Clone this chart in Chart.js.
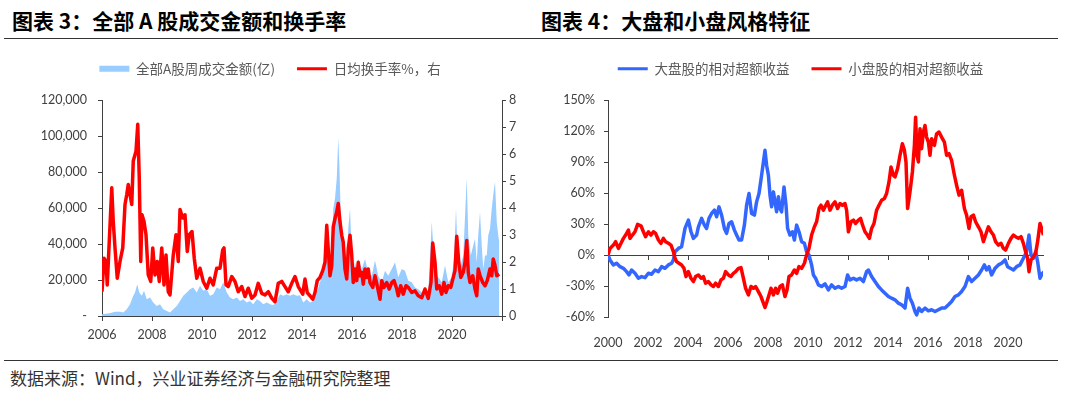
<!DOCTYPE html>
<html>
<head>
<meta charset="utf-8">
<script src="https://cdn.jsdelivr.net/npm/chart.js"></script>
<style>
  body { margin: 0; width: 1080px; height: 397px; background: #fff; position: relative; overflow: hidden; font-family: 'Noto Sans CJK SC', sans-serif; }
  .title { position: absolute; top: 5px; font-size: 21px; font-weight: bold; color: #000; white-space: nowrap; }
  .rule { position: absolute; left: 4px; width: 1054px; border-top: 1.5px solid #333; }
  canvas { position: absolute; }
  .source { position: absolute; left: 10px; top: 366px; font-size: 17px; line-height: 24px; color: #333; white-space: nowrap; }
</style>
</head>
<body>
<div class="title" style="left:12px">图表 3：全部 A 股成交金额和换手率</div>
<div class="title" style="left:541px">图表 4：大盘和小盘风格特征</div>
<div class="rule" style="top:38px"></div>
<canvas id="turnoverChart" width="540" height="310" style="left:0;top:40px"></canvas>
<canvas id="styleChart" width="522" height="310" style="left:558px;top:40px"></canvas>
<div class="rule" style="top:360px"></div>
<div class="source">数据来源：Wind，兴业证券经济与金融研究院整理</div>
<script>
// chart 3: weekly turnover (亿, left axis) and daily turnover rate (%, right axis)
var volumeLabel = '全部A股周成交金额(亿)';
var turnoverLabel = '日均换手率%，右';

var volumeYears = [2006.00, 2006.30, 2006.52, 2006.72, 2006.85, 2006.99, 2007.12, 2007.25, 2007.32, 2007.41,
  2007.49, 2007.59, 2007.68, 2007.79, 2007.92, 2008.05, 2008.19, 2008.32, 2008.45, 2008.59,
  2008.72, 2008.85, 2008.99, 2009.12, 2009.25, 2009.39, 2009.52, 2009.65, 2009.79, 2009.92,
  2010.05, 2010.19, 2010.32, 2010.45, 2010.59, 2010.72, 2010.85, 2010.99, 2011.12, 2011.25,
  2011.39, 2011.52, 2011.65, 2011.79, 2011.92, 2012.05, 2012.19, 2012.32, 2012.45, 2012.59,
  2012.72, 2012.85, 2012.99, 2013.12, 2013.25, 2013.39, 2013.52, 2013.65, 2013.79, 2013.92,
  2014.05, 2014.19, 2014.32, 2014.45, 2014.59, 2014.72, 2014.85, 2014.99, 2015.05, 2015.12,
  2015.19, 2015.25, 2015.32, 2015.39, 2015.45, 2015.49, 2015.55, 2015.63, 2015.72, 2015.79,
  2015.85, 2015.92, 2015.99, 2016.05, 2016.12, 2016.19, 2016.25, 2016.39, 2016.52, 2016.65,
  2016.79, 2016.92, 2017.05, 2017.19, 2017.32, 2017.45, 2017.59, 2017.72, 2017.85, 2017.99,
  2018.12, 2018.25, 2018.39, 2018.52, 2018.65, 2018.79, 2018.92, 2019.05, 2019.19, 2019.25,
  2019.32, 2019.45, 2019.59, 2019.72, 2019.85, 2019.99, 2020.08, 2020.16, 2020.21, 2020.32,
  2020.45, 2020.59, 2020.65, 2020.75, 2020.85, 2020.92, 2020.99, 2021.05, 2021.12, 2021.19,
  2021.25, 2021.32, 2021.39, 2021.45, 2021.52, 2021.59, 2021.65, 2021.72, 2021.79, 2021.85,
  2021.89];
var volumeValues = [1000, 1500, 2400, 2400, 1900, 3700, 6500, 11200, 13000, 17700,
  13000, 11200, 14000, 9300, 10300, 7500, 5600, 6500, 3700, 2800,
  1900, 3700, 5600, 8400, 11200, 13000, 14900, 15900, 13000, 16800,
  14000, 14900, 11200, 12100, 15900, 14900, 18700, 13000, 10300, 9300,
  10300, 8400, 9300, 7500, 8400, 6500, 9300, 8400, 6500, 7500,
  6500, 6000, 8400, 12100, 11200, 12100, 11200, 12100, 11200, 11500,
  7500, 9300, 7500, 8400, 13000, 18700, 24300, 41000, 33600, 29900,
  33600, 59700, 65300, 76500, 98900, 85800, 56000, 41000, 33600, 26100,
  48500, 59700, 33600, 24300, 29900, 26100, 31700, 26100, 31700, 24300,
  22400, 30800, 22400, 18700, 25200, 22400, 26100, 29900, 21500, 26100,
  25200, 19600, 18700, 15900, 14900, 13000, 14900, 13000, 52200, 39200,
  24300, 21500, 18700, 28000, 18700, 21500, 31700, 59700, 41000, 26100,
  33600, 76500, 44800, 33600, 39200, 42900, 29900, 44800, 57800, 39200,
  26100, 33600, 33600, 44800, 48500, 59700, 67200, 74600, 52200, 44800,
  41000];

var turnoverYears = [2006.00, 2006.08, 2006.16, 2006.21, 2006.39, 2006.45, 2006.52, 2006.61, 2006.72, 2006.83,
  2006.92, 2006.99, 2007.05, 2007.12, 2007.19, 2007.25, 2007.36, 2007.43, 2007.49, 2007.55,
  2007.60, 2007.68, 2007.76, 2007.85, 2007.95, 2008.03, 2008.12, 2008.21, 2008.29, 2008.39,
  2008.48, 2008.56, 2008.65, 2008.72, 2008.85, 2008.96, 2009.05, 2009.12, 2009.23, 2009.32,
  2009.41, 2009.49, 2009.60, 2009.69, 2009.79, 2009.92, 2010.05, 2010.19, 2010.32, 2010.45,
  2010.59, 2010.72, 2010.83, 2010.88, 2010.96, 2011.05, 2011.19, 2011.32, 2011.45, 2011.59,
  2011.72, 2011.85, 2011.99, 2012.12, 2012.25, 2012.39, 2012.52, 2012.65, 2012.79, 2012.92,
  2013.05, 2013.19, 2013.32, 2013.45, 2013.59, 2013.72, 2013.85, 2014.03, 2014.12, 2014.21,
  2014.32, 2014.43, 2014.52, 2014.61, 2014.72, 2014.83, 2014.92, 2014.99, 2015.04, 2015.12,
  2015.19, 2015.25, 2015.32, 2015.39, 2015.45, 2015.52, 2015.59, 2015.65, 2015.72, 2015.79,
  2015.85, 2015.92, 2015.99, 2016.05, 2016.12, 2016.19, 2016.25, 2016.32, 2016.39, 2016.45,
  2016.52, 2016.59, 2016.65, 2016.72, 2016.83, 2016.92, 2017.01, 2017.12, 2017.19, 2017.28,
  2017.39, 2017.49, 2017.59, 2017.68, 2017.79, 2017.85, 2017.95, 2018.05, 2018.16, 2018.25,
  2018.39, 2018.52, 2018.65, 2018.79, 2018.92, 2019.05, 2019.16, 2019.23, 2019.32, 2019.39,
  2019.49, 2019.59, 2019.68, 2019.76, 2019.85, 2019.95, 2020.05, 2020.12, 2020.19, 2020.27,
  2020.35, 2020.45, 2020.52, 2020.59, 2020.65, 2020.72, 2020.83, 2020.92, 2020.99, 2021.05,
  2021.12, 2021.23, 2021.32, 2021.41, 2021.52, 2021.59, 2021.65, 2021.72, 2021.79, 2021.89];
var turnoverValues = [0.90, 2.14, 2.02, 1.15, 4.75, 3.50, 2.52, 1.40, 2.02, 2.52,
  4.13, 4.50, 4.87, 4.50, 4.13, 5.74, 6.10, 7.10, 5.12, 2.02,
  3.75, 3.50, 3.01, 1.52, 1.28, 2.52, 1.52, 2.02, 1.28, 2.52,
  1.15, 2.26, 0.90, 0.78, 2.26, 3.01, 2.02, 3.94, 3.63, 3.75,
  2.39, 3.01, 3.13, 2.14, 1.40, 1.77, 1.28, 1.03, 1.40, 1.15,
  1.77, 1.77, 2.45, 2.52, 1.15, 1.09, 1.46, 1.28, 0.90, 1.09,
  0.72, 1.03, 0.66, 0.78, 1.21, 0.84, 0.78, 0.90, 0.66, 0.53,
  1.21, 1.28, 1.09, 0.90, 1.21, 1.46, 1.09, 0.81, 1.37, 0.87,
  0.75, 0.62, 0.87, 1.31, 1.43, 1.68, 1.99, 3.36, 2.61, 1.49,
  1.87, 3.30, 3.61, 3.86, 4.17, 3.48, 2.99, 2.74, 1.74, 1.37,
  2.49, 2.99, 2.24, 1.24, 1.74, 1.31, 1.99, 1.49, 1.62, 1.18,
  1.74, 1.43, 1.74, 1.24, 1.06, 1.49, 1.12, 0.62, 1.31, 1.06,
  1.24, 1.00, 1.24, 1.31, 1.00, 0.75, 1.12, 0.81, 1.12, 1.06,
  0.87, 0.93, 0.75, 0.68, 1.00, 0.65, 1.24, 2.70, 1.99, 1.00,
  1.12, 0.81, 1.24, 0.87, 1.12, 1.06, 1.43, 1.68, 2.95, 1.99,
  1.43, 1.62, 1.99, 2.80, 1.62, 1.24, 1.49, 1.00, 0.75, 1.74,
  1.49, 1.24, 1.12, 1.31, 1.74, 1.49, 2.11, 1.87, 1.49, 1.55];

// chart 4: relative excess return of large caps vs small caps (%)
var largeCapLabel = '大盘股的相对超额收益';
var smallCapLabel = '小盘股的相对超额收益';

var largeCapYears = [2000.00, 2000.10, 2000.27, 2000.43, 2000.60, 2000.77, 2000.93, 2001.05, 2001.18, 2001.35,
  2001.52, 2001.68, 2001.85, 2002.02, 2002.18, 2002.35, 2002.52, 2002.68, 2002.85, 2003.02,
  2003.18, 2003.27, 2003.35, 2003.52, 2003.68, 2003.85, 2004.02, 2004.15, 2004.27, 2004.43,
  2004.52, 2004.68, 2004.82, 2004.93, 2005.05, 2005.18, 2005.32, 2005.43, 2005.55, 2005.68,
  2005.82, 2005.93, 2006.05, 2006.18, 2006.32, 2006.43, 2006.55, 2006.68, 2006.82, 2006.93,
  2007.05, 2007.18, 2007.32, 2007.43, 2007.55, 2007.68, 2007.77, 2007.85, 2007.93, 2008.02,
  2008.10, 2008.18, 2008.27, 2008.35, 2008.43, 2008.52, 2008.60, 2008.68, 2008.80, 2008.90,
  2008.98, 2009.10, 2009.22, 2009.32, 2009.43, 2009.55, 2009.68, 2009.82, 2009.93, 2010.05,
  2010.18, 2010.27, 2010.38, 2010.52, 2010.68, 2010.85, 2011.02, 2011.18, 2011.35, 2011.52,
  2011.68, 2011.85, 2011.98, 2012.10, 2012.27, 2012.43, 2012.60, 2012.77, 2012.93, 2013.02,
  2013.18, 2013.35, 2013.52, 2013.68, 2013.85, 2014.02, 2014.18, 2014.35, 2014.52, 2014.68,
  2014.85, 2014.98, 2015.10, 2015.22, 2015.35, 2015.43, 2015.55, 2015.68, 2015.85, 2016.02,
  2016.18, 2016.35, 2016.52, 2016.68, 2016.85, 2017.02, 2017.18, 2017.35, 2017.52, 2017.68,
  2017.85, 2018.02, 2018.18, 2018.35, 2018.52, 2018.68, 2018.82, 2018.93, 2019.05, 2019.18,
  2019.35, 2019.52, 2019.68, 2019.85, 2019.98, 2020.12, 2020.27, 2020.43, 2020.60, 2020.77,
  2020.93, 2021.05, 2021.15, 2021.27, 2021.38, 2021.48, 2021.60, 2021.72, 2021.82];
var largeCapValues = [0, -4.8, -9.6, -8.0, -11.3, -12.9, -16.1, -19.3, -14.5, -17.7,
  -22.5, -20.9, -21.9, -17.7, -18.6, -14.5, -16.1, -11.3, -12.9, -9.6,
  -8.0, -4.8, 3.2, 6.4, 8.0, 25.7, 33.8, 22.5, 16.1, 19.3,
  27.3, 35.4, 28.9, 25.7, 35.4, 40.2, 43.4, 37.0, 46.6, 38.6,
  25.7, 20.9, 30.5, 32.2, 24.1, 19.3, 14.5, 14.5, 28.9, 48.2,
  59.5, 40.2, 38.6, 51.4, 59.5, 77.2, 90.0, 101.3, 86.8, 77.2,
  57.9, 46.6, 61.1, 51.4, 41.8, 56.3, 45.0, 41.8, 65.9, 48.2,
  25.7, 19.3, 22.5, 14.5, 28.9, 22.5, 12.9, 11.3, 3.2, 0,
  -9.6, -19.3, -22.5, -28.9, -30.5, -28.0, -33.8, -28.9, -32.2, -30.5,
  -32.2, -30.5, -19.3, -24.1, -22.5, -24.1, -22.5, -25.7, -16.1, -14.5,
  -20.9, -25.7, -30.5, -33.8, -37.0, -40.2, -41.8, -43.4, -46.6, -48.2,
  -51.4, -32.2, -41.8, -46.6, -54.7, -57.9, -51.4, -54.7, -51.4, -54.0,
  -53.0, -54.7, -53.0, -51.4, -51.4, -48.2, -45.0, -40.2, -38.6, -35.4,
  -30.5, -20.9, -25.7, -22.5, -19.3, -14.5, -9.6, -14.5, -11.3, -19.3,
  -12.9, -9.6, -8.0, -4.8, -11.3, -12.9, -14.5, -11.3, -9.6, -3.2,
  3.2, 19.3, 0, -3.2, 3.2, -6.4, -22.5, -17.7, -16.1];

var smallCapYears = [2000.00, 2000.10, 2000.27, 2000.38, 2000.52, 2000.65, 2000.77, 2000.88, 2001.02, 2001.10,
  2001.22, 2001.35, 2001.48, 2001.65, 2001.77, 2001.88, 2002.02, 2002.15, 2002.27, 2002.38,
  2002.52, 2002.65, 2002.77, 2002.88, 2003.02, 2003.15, 2003.27, 2003.35, 2003.43, 2003.55,
  2003.68, 2003.80, 2003.90, 2004.02, 2004.15, 2004.27, 2004.38, 2004.52, 2004.65, 2004.77,
  2004.88, 2005.02, 2005.15, 2005.27, 2005.38, 2005.52, 2005.65, 2005.77, 2005.88, 2006.02,
  2006.15, 2006.27, 2006.38, 2006.52, 2006.65, 2006.77, 2006.88, 2007.02, 2007.15, 2007.27,
  2007.38, 2007.52, 2007.65, 2007.77, 2007.85, 2007.95, 2008.05, 2008.15, 2008.27, 2008.38,
  2008.48, 2008.60, 2008.72, 2008.85, 2008.95, 2009.05, 2009.18, 2009.32, 2009.43, 2009.55,
  2009.68, 2009.82, 2009.93, 2010.05, 2010.18, 2010.32, 2010.43, 2010.55, 2010.65, 2010.77,
  2010.85, 2010.98, 2011.10, 2011.22, 2011.35, 2011.48, 2011.60, 2011.72, 2011.85, 2011.93,
  2012.02, 2012.15, 2012.27, 2012.38, 2012.52, 2012.63, 2012.73, 2012.85, 2012.97, 2013.07,
  2013.18, 2013.30, 2013.43, 2013.55, 2013.68, 2013.82, 2013.93, 2014.05, 2014.15, 2014.27,
  2014.35, 2014.48, 2014.60, 2014.72, 2014.82, 2014.90, 2014.98, 2015.10, 2015.22, 2015.32,
  2015.38, 2015.45, 2015.52, 2015.60, 2015.68, 2015.77, 2015.85, 2015.93, 2016.02, 2016.10,
  2016.18, 2016.32, 2016.43, 2016.55, 2016.68, 2016.82, 2016.93, 2017.05, 2017.18, 2017.32,
  2017.43, 2017.55, 2017.68, 2017.82, 2017.93, 2018.05, 2018.15, 2018.27, 2018.38, 2018.52,
  2018.65, 2018.77, 2018.88, 2019.02, 2019.15, 2019.27, 2019.38, 2019.52, 2019.65, 2019.77,
  2019.88, 2020.02, 2020.15, 2020.27, 2020.38, 2020.52, 2020.65, 2020.77, 2020.88, 2020.98,
  2021.05, 2021.15, 2021.27, 2021.38, 2021.48, 2021.60, 2021.68, 2021.77, 2021.82];
var smallCapValues = [0, 6.4, 9.6, 12.9, 6.4, 11.3, 16.1, 19.3, 24.1, 16.1,
  19.3, 22.5, 29.6, 28.3, 22.5, 17.7, 22.5, 19.3, 22.5, 20.9,
  14.5, 11.3, 16.1, 12.9, 11.3, 9.6, 3.2, -3.2, -6.4, -8.0,
  -9.6, -12.9, -20.9, -16.1, -22.5, -25.7, -20.9, -19.3, -22.5, -20.9,
  -27.3, -25.7, -28.9, -30.5, -27.3, -30.5, -24.1, -22.5, -16.1, -19.3,
  -20.9, -17.7, -16.1, -12.9, -12.2, -22.5, -32.2, -38.6, -30.5, -32.2,
  -30.5, -35.4, -40.2, -46.6, -50.8, -45.0, -38.6, -32.2, -38.6, -32.2,
  -37.0, -30.5, -28.9, -40.2, -33.8, -20.9, -19.3, -14.5, -17.7, -11.3,
  -12.9, -8.0, 0, 6.4, 19.3, 27.3, 32.2, 45.0, 48.2, 43.4,
  46.6, 51.4, 43.4, 48.2, 51.4, 45.0, 49.8, 48.2, 49.8, 43.4,
  22.5, 32.2, 33.8, 30.5, 33.8, 35.4, 28.9, 22.5, 19.3, 16.1,
  25.7, 30.5, 43.4, 48.2, 53.0, 54.7, 59.5, 70.7, 85.2, 77.2,
  75.6, 83.6, 96.5, 107.7, 101.3, 90.0, 45.0, 61.1, 80.4, 106.1,
  133.4, 96.5, 90.0, 122.2, 102.9, 119.0, 125.4, 114.1, 109.3, 96.5,
  112.5, 106.1, 117.3, 119.0, 114.1, 109.3, 96.5, 98.1, 91.6, 77.2,
  67.5, 57.9, 62.7, 45.0, 38.6, 25.7, 37.0, 38.6, 32.2, 27.3,
  22.5, 12.9, 19.3, 27.3, 22.5, 19.3, 12.9, 9.6, 11.3, 6.4,
  4.8, 11.3, 16.1, 19.3, 17.7, 16.1, 17.7, 11.3, 3.2, -3.2,
  -16.1, -4.8, -1.6, 1.6, 12.9, 30.5, 25.7, 19.3, 20.9];

var axisColor = '#404040';
var tickFont = { family: 'Lato, sans-serif', size: 12.5 };
var legendFont = { family: "'Noto Sans CJK SC', sans-serif", size: 13.5 };

Chart.defaults.color = '#404040';
Chart.defaults.animation = false;

function pts(xs, ys) {
  return xs.map(function (x, i) { return { x: x, y: ys[i] }; });
}

// legend needs more room below it than chart.js gives by default
function legendHeight(h) {
  return {
    id: 'legendHeight',
    beforeInit: function (chart) {
      var fit = chart.legend.fit;
      chart.legend.fit = function () {
        fit.call(this);
        this.height = h;
      };
    }
  };
}

function legendItems(chart) {
  return chart.data.datasets.map(function (ds, i) {
    var isArea = ds.fill === 'origin';
    var c = isArea ? ds.backgroundColor : ds.borderColor;
    return {
      text: ds.label,
      fillStyle: c,
      strokeStyle: c,
      lineWidth: isArea ? 0 : 3,
      pointStyle: isArea ? 'rect' : 'line',
      fontColor: '#595959',
      hidden: false,
      datasetIndex: i
    };
  });
}

var legendOpts = {
  position: 'top',
  labels: {
    usePointStyle: true,
    pointStyleWidth: 30,
    boxHeight: 6,
    padding: 22,
    font: legendFont,
    color: '#595959',
    generateLabels: legendItems
  }
};

function yearTick(v) { return String(v); }

var turnoverChart = new Chart(document.getElementById('turnoverChart'), {
  type: 'line',
  data: {
    datasets: [{
      label: volumeLabel,
      data: pts(volumeYears, volumeValues),
      yAxisID: 'y',
      fill: 'origin',
      backgroundColor: '#99CCFF',
      borderColor: 'rgba(0,0,0,0)',
      borderWidth: 0,
      pointRadius: 0,
      tension: 0,
      order: 1
    }, {
      label: turnoverLabel,
      data: pts(turnoverYears, turnoverValues),
      yAxisID: 'y1',
      fill: false,
      borderColor: '#FF0000',
      borderWidth: 3.5,
      borderJoinStyle: 'round',
      pointRadius: 0,
      tension: 0,
      order: 0
    }]
  },
  options: {
    responsive: false,
    layout: { padding: 0 },
    plugins: { legend: legendOpts, tooltip: { enabled: false } },
    scales: {
      x: {
        type: 'linear', min: 2006, max: 2022,
        ticks: { stepSize: 2, padding: 6, font: tickFont, maxRotation: 0, autoSkip: false,
          callback: function (v) { return v === 2022 ? '' : String(v); } },
        grid: { drawOnChartArea: false, tickLength: 5, color: axisColor },
        border: { color: axisColor },
        afterFit: function (s) { s.height = 34; }
      },
      y: {
        position: 'left', min: 0, max: 120000,
        ticks: { stepSize: 20000, padding: 11, font: tickFont,
          callback: function (v) { return v === 0 ? '-' : v.toLocaleString('en-US'); } },
        grid: { drawOnChartArea: false, tickLength: 4, color: axisColor },
        border: { color: axisColor },
        afterFit: function (s) { s.width = 102; }
      },
      y1: {
        position: 'right', min: 0, max: 8,
        ticks: { stepSize: 1, padding: 3, font: tickFont },
        grid: { drawOnChartArea: false, tickLength: 4, color: axisColor },
        border: { color: axisColor },
        afterFit: function (s) { s.width = 38; }
      }
    }
  },
  plugins: [legendHeight(60)]
});

var styleChart = new Chart(document.getElementById('styleChart'), {
  type: 'line',
  data: {
    datasets: [{
      label: largeCapLabel,
      data: pts(largeCapYears, largeCapValues),
      borderColor: '#3366FF',
      borderWidth: 3.5,
      borderJoinStyle: 'round',
      pointRadius: 0,
      tension: 0,
      fill: false,
      order: 1
    }, {
      label: smallCapLabel,
      data: pts(smallCapYears, smallCapValues),
      borderColor: '#FF0000',
      borderWidth: 3.5,
      borderJoinStyle: 'round',
      pointRadius: 0,
      tension: 0,
      fill: false,
      order: 0
    }]
  },
  options: {
    responsive: false,
    layout: { padding: { right: 37 } },
    plugins: { legend: legendOpts, tooltip: { enabled: false } },
    scales: {
      x: {
        type: 'linear', min: 2000, max: 2021.75,
        ticks: { stepSize: 2, includeBounds: false, padding: 10, font: tickFont, maxRotation: 0, autoSkip: false, callback: yearTick },
        grid: { display: false },
        border: { display: false },
        afterFit: function (s) { s.height = 33; }
      },
      // the category line sits on 0%
      zero: {
        type: 'linear', axis: 'x', position: { y: 0 }, min: 2000, max: 2021.75,
        ticks: { display: false, stepSize: 2, includeBounds: false },
        grid: { drawOnChartArea: false, tickLength: 4, color: axisColor },
        border: { color: axisColor }
      },
      y: {
        position: 'left', min: -60, max: 150,
        ticks: { stepSize: 30, padding: 9, font: tickFont,
          callback: function (v) { return v + '%'; } },
        grid: { drawOnChartArea: false, tickLength: 4, color: axisColor },
        border: { color: axisColor },
        afterFit: function (s) { s.width = 50; }
      }
    }
  },
  plugins: [legendHeight(60)]
});
</script>
</body>
</html>
